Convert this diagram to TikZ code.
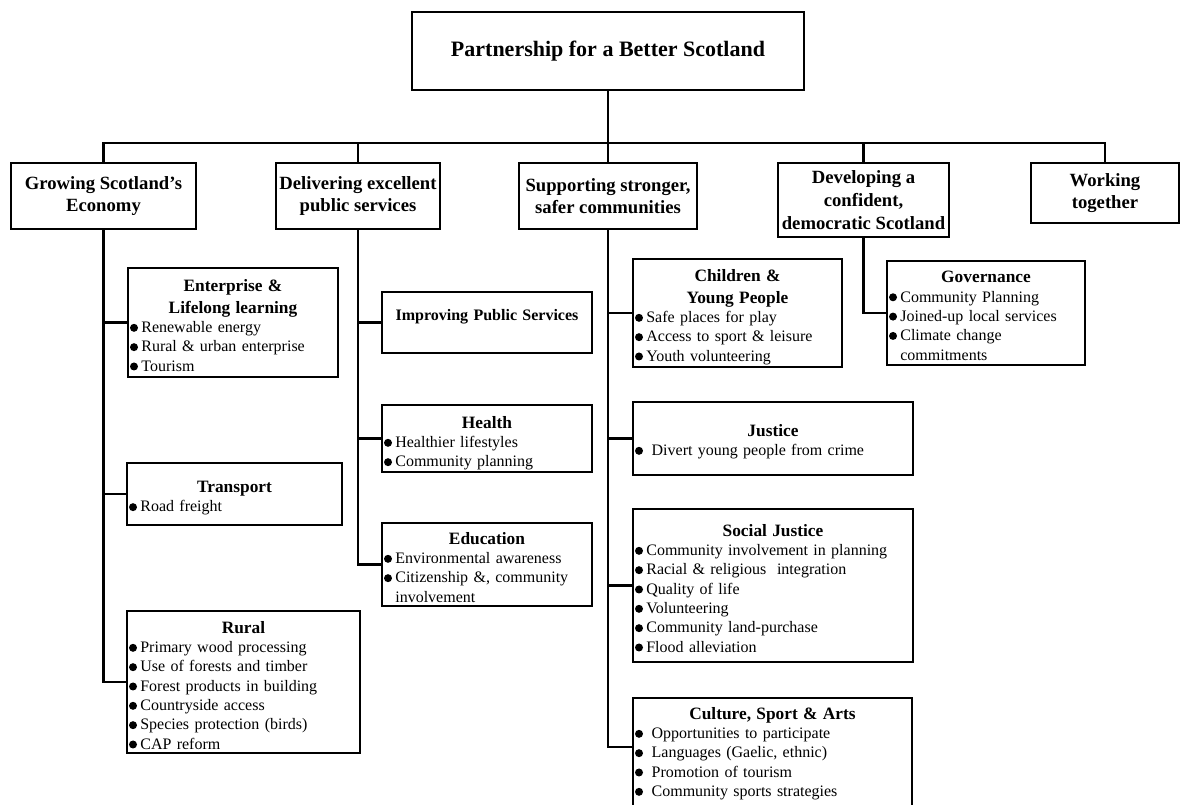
\documentclass[tikz,border=0pt]{standalone}
\usepackage{fontspec}
\setmainfont{Liberation Serif}
\usetikzlibrary{calc}

% bullet: a filled dot followed by a fixed gap
\newcommand\bl{\makebox[8.5pt][l]{\tikz[x=1pt,y=1pt,baseline=-0.3em]\fill (0,0) circle (3pt);}}
% centred bold heading inside a box
\newcommand\ttl[1]{{\centering\fontsize{13}{16.5}\selectfont\bfseries #1\par}}
% straight apostrophe
\newcommand\apos{{\char"0027}}

\begin{document}
\begin{tikzpicture}[x=0.75pt,y=-0.75pt,
  box/.style 2 args={draw, line width=1.1pt, minimum width={#1*0.75pt},
    minimum height={#2*0.75pt}, anchor=north west, inner sep=0pt, outer sep=0pt},
  headtxt/.style={align=center, font=\fontsize{14}{17}\selectfont\bfseries},
  txt/.style={inner sep=0pt, anchor=north, align=left, text width={#1*0.75pt},
    font=\fontsize{12}{14.5}\selectfont},
  conn/.style={line width=2.2pt}]

\useasboundingbox (0,0) rectangle (1180,805);

% top level
\node[box={392}{78}, font=\fontsize{16.5}{20}\selectfont\bfseries] (top) at (412,12)
  {Partnership for a Better Scotland};

% five strands
\node[box={185}{66}, headtxt] (grow) at (11,163) {Growing Scotland\apos s\\Economy};
\node[box={164}{66}, headtxt] (deliv) at (276,163) {Delivering excellent\\public services};
\node[box={178}{66}, headtxt] (sup) at (519,163) {Supporting stronger,\\safer communities};
\node[box={171}{74}, headtxt] (dev) at (778,163) {Developing a\\confident,\\democratic Scotland};
\node[box={148}{60}, headtxt] (work) at (1031,163) {Working\\together};

% bus bar
\coordinate (bus) at (0,143);
\draw[conn] (grow.north) |- (work.north |- bus) -- (work.north);
\draw[conn] (top.south) -- (sup.north);
\draw[conn] (deliv.north) -- (deliv.north |- bus);
\draw[conn] (dev.north) -- (dev.north |- bus);

% ---- Growing Scotland's Economy
\node[box={210}{109}] (ent) at (128,268) {};
\node[txt=206] (entT) at ($(ent.north)+(0,11)$)
  {\ttl{Enterprise \&\\Lifelong learning}\bl Renewable energy\\\bl Rural \& urban enterprise\\\bl Tourism};
\node[box={215}{62}] (trans) at (127,463) {};
\node[txt=211] (transT) at ($(trans.north)+(0,18)$)
  {\ttl{Transport}\bl Road freight};
\node[box={233}{142}] (rural) at (127,611) {};
\node[txt=229] (ruralT) at ($(rural.north)+(0,10)$)
  {\ttl{Rural}\bl Primary wood processing\\\bl Use of forests and timber\\\bl Forest products in building\\\bl Countryside access\\\bl Species protection (birds)\\\bl CAP reform};

\draw[conn] (grow.south) |- (rural.west);
\draw[conn] (grow.south |- ent.west) -- (ent.west);
\draw[conn] (grow.south |- trans.west) -- (trans.west);

% ---- Delivering excellent public services
\node[box={210}{61}] (impr) at (382,292) {};
\node[txt=206] (imprT) at ($(impr.north)+(0,17)$)
  {{\centering\fontsize{12}{14.5}\selectfont\bfseries Improving Public Services\par}};
\node[box={210}{67}] (health) at (382,405) {};
\node[txt=206] (healthT) at ($(health.north)+(0,11)$)
  {\ttl{Health}\bl Healthier lifestyles\\\bl Community planning};
\node[box={210}{83}] (edu) at (382,523) {};
\node[txt=206] (eduT) at ($(edu.north)+(0,9)$)
  {\ttl{Education}\bl Environmental awareness\\\bl Citizenship \&, community\\\hspace*{8.5pt}involvement};

\draw[conn] (deliv.south) |- (edu.west);
\draw[conn] (deliv.south |- impr.west) -- (impr.west);
\draw[conn] (deliv.south |- health.west) -- (health.west);

% ---- Supporting stronger, safer communities
\node[box={209}{108}] (child) at (633,259) {};
\node[txt=205] (childT) at ($(child.north)+(0,10)$)
  {\ttl{Children \&\\Young People}\bl Safe places for play\\\bl Access to sport \& leisure\\\bl Youth volunteering};
\node[box={280}{73}] (just) at (633,402) {};
\node[txt=276] (justT) at ($(just.north)+(0,22)$)
  {\ttl{Justice}\bl\hspace{4pt}Divert young people from crime};
\node[box={280}{153}] (soc) at (633,509) {};
\node[txt=276] (socT) at ($(soc.north)+(0,15)$)
  {\ttl{Social Justice}\bl Community involvement in planning\\\bl Racial \& religious\ \ integration\\\bl Quality of life\\\bl Volunteering\\\bl Community land-purchase\\\bl Flood alleviation};
\node[box={279}{120}] (cult) at (633,698) {};
\node[txt=275] (cultT) at ($(cult.north)+(0,9)$)
  {\ttl{Culture, Sport \& Arts}\bl\hspace{4pt}Opportunities to participate\\\bl\hspace{4pt}Languages (Gaelic, ethnic)\\\bl\hspace{4pt}Promotion of tourism\\\bl\hspace{4pt}Community sports strategies};
\coordinate (cultin) at ($(cult.north west)+(0,49)$);

\draw[conn] (sup.south) |- (cultin);
\draw[conn] (sup.south |- child.west) -- (child.west);
\draw[conn] (sup.south |- just.west) -- (just.west);
\draw[conn] (sup.south |- soc.west) -- (soc.west);

% ---- Developing a confident, democratic Scotland
\node[box={198}{104}] (gov) at (887,261) {};
\node[txt=194] (govT) at ($(gov.north)+(0,10)$)
  {\ttl{Governance}\bl Community Planning\\\bl Joined-up local services\\\bl Climate change\\\hspace*{8.5pt}commitments};

\draw[conn] (dev.south) |- (gov.west);

\end{tikzpicture}
\end{document}
